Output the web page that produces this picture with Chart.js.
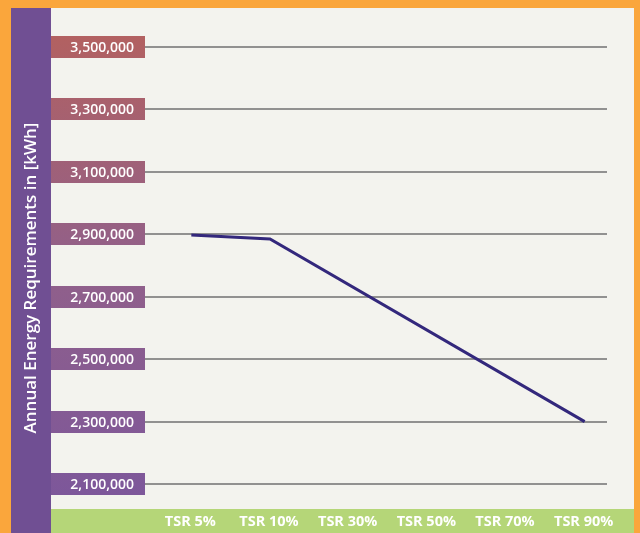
<!DOCTYPE html>
<html>
<head>
<meta charset="utf-8">
<script src="https://cdn.jsdelivr.net/npm/chart.js@4"></script>
<style>
  html, body { margin: 0; padding: 0; background: #FAA63C; }
  canvas { display: block; }
</style>
</head>
<body>
<canvas id="energyChart" width="640" height="533"></canvas>
<script>
/* ================== DATA ================== */
const categories = ["TSR 5%", "TSR 10%", "TSR 30%", "TSR 50%", "TSR 70%", "TSR 90%"];
// only the end points are marked on the original; the gaps are spanned by a straight line
const energyValues = [2898000, 2885000, null, null, null, 2300000];
const yTicks = [2100000, 2300000, 2500000, 2700000, 2900000, 3100000, 3300000, 3500000];
const yTitle = "Annual Energy Requirements in [kWh]";

/* ================== COLORS ================== */
const orange = "#FAA63C";
const purple = "#704F93";
const plotBg = "#F3F3EE";
const green = "#B5D678";
const lineColor = "#33287C";

/* ================== DECORATION PLUGIN ================== */
const frame = {
  id: "frame",
  beforeDraw(chart) {
    const ctx = chart.ctx;
    const area = chart.chartArea;
    const y = chart.scales.y;
    const W = chart.width, H = chart.height;

    ctx.save();
    ctx.fillStyle = orange;
    ctx.fillRect(0, 0, W, H);
    ctx.fillStyle = purple;
    ctx.fillRect(11, 8, 40, H - 8);
    ctx.fillStyle = plotBg;
    ctx.fillRect(51, 8, 583, area.bottom - 8);
    ctx.fillStyle = green;
    ctx.fillRect(51, area.bottom, 583, H - area.bottom);

    // tick boxes, shaded from red (top) to purple (bottom)
    const grad = ctx.createLinearGradient(0, y.getPixelForValue(3500000) - 11, 0, y.getPixelForValue(2100000) + 11);
    grad.addColorStop(0, "#B26161");
    grad.addColorStop(0.5, "#91608A");
    grad.addColorStop(1, "#7D579A");

    yTicks.forEach(v => {
      const py = Math.round(y.getPixelForValue(v));
      ctx.fillStyle = grad;
      ctx.fillRect(51, py - 11, 94, 22);

      ctx.strokeStyle = "#707070";
      ctx.lineWidth = 1.5;
      ctx.beginPath();
      ctx.moveTo(145, py);
      ctx.lineTo(607, py);
      ctx.stroke();

      ctx.fillStyle = "#FFFFFF";
      ctx.font = "600 14px 'Open Sans', sans-serif";
      ctx.textAlign = "right";
      ctx.textBaseline = "middle";
      ctx.fillText(v.toLocaleString("en-US"), 134, py + 1);
    });

    // category labels in the green band
    const x = chart.scales.x;
    ctx.font = "bold 14.5px 'Open Sans', sans-serif";
    ctx.textAlign = "center";
    categories.forEach((c, i) => {
      ctx.fillText(c, x.getPixelForValue(i) - 1, area.bottom + 13);
    });

    // axis title
    ctx.translate(31, 278);
    ctx.rotate(-Math.PI / 2);
    ctx.font = "600 17px 'Open Sans', sans-serif";
    ctx.fillText(yTitle, 0, 0);
    ctx.restore();
  }
};

/* ================== CHART ================== */
new Chart(document.getElementById("energyChart"), {
  type: "line",
  data: {
    labels: categories,
    datasets: [{
      data: energyValues,
      borderColor: lineColor,
      borderWidth: 3,
      pointRadius: 0,
      tension: 0,
      spanGaps: true
    }]
  },
  options: {
    responsive: false,
    animation: false,
    layout: { padding: { left: 152, right: 16, top: 8, bottom: 24 } },
    plugins: { legend: { display: false }, tooltip: { enabled: false } },
    scales: {
      x: { display: false, offset: true },
      y: { display: false, min: 2020000, max: 3625000 }
    }
  },
  plugins: [frame]
});
</script>
</body>
</html>
